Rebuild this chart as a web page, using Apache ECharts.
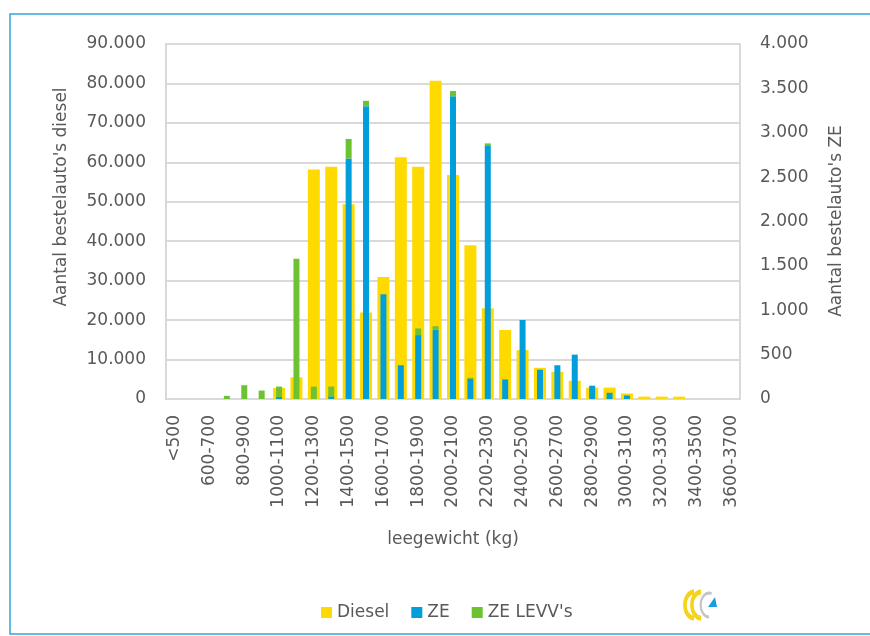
<!DOCTYPE html>
<html>
<head>
<meta charset="utf-8">
<script src="https://cdn.jsdelivr.net/npm/echarts@6/dist/echarts.min.js"></script>
<style>
  html, body { margin: 0; padding: 0; background: #fff; }
  #chart { width: 870px; height: 636px; }
</style>
</head>
<body>
<div id="chart"></div>
<script>
  // gewichtsklassen (kg)
  let categories = ['<500', '500-600', '600-700', '700-800', '800-900', '900-1000', '1000-1100', '1100-1200',
    '1200-1300', '1300-1400', '1400-1500', '1500-1600', '1600-1700', '1700-1800', '1800-1900', '1900-2000',
    '2000-2100', '2100-2200', '2200-2300', '2300-2400', '2400-2500', '2500-2600', '2600-2700', '2700-2800',
    '2800-2900', '2900-3000', '3000-3100', '3100-3200', '3200-3300', '3300-3400', '3400-3500', '3500-3600',
    '3600-3700'];
  // linker as
  let diesel = [0, 0, 0, 0, 0, 0, 2800, 5500, 58200, 58900, 49400, 21900, 30900, 61300, 58900, 80700,
    56800, 39000, 23000, 17500, 12400, 7900, 6900, 4600, 2900, 2900, 1400, 600, 600, 600, 0, 0, 0];
  // rechter as
  let ze = [0, 0, 0, 0, 0, 0, 25, 0, 0, 30, 2710, 3300, 1180, 380, 720, 780,
    3410, 230, 2860, 220, 890, 330, 380, 500, 150, 70, 40, 0, 0, 0, 0, 0, 0];
  let zeLevv = [0, 0, 0, 35, 155, 95, 115, 1580, 140, 110, 220, 60, 0, 0, 75, 40,
    60, 10, 20, 0, 0, 0, 0, 0, 0, 0, 0, 0, 0, 0, 0, 0, 0];
  let leftTicks = [0, 90000, 10000];
  let rightTicks = [0, 4000, 500];

  let font = 'DejaVu Sans';
  let grey = '#595959';

  function dots(v) {
    return String(v).replace(/\B(?=(\d{3})+(?!\d))/g, '.');
  }

  let chart = echarts.init(document.getElementById('chart'));
  chart.setOption({
    animation: false,
    textStyle: { fontFamily: font },
    color: ['#FFDA00', '#009FDB', '#6EC232'],
    grid: {
      left: 166, right: 130, top: 44, bottom: 237,
      show: true, borderColor: '#d9d9d9', borderWidth: 2
    },
    legend: {
      data: ['Diesel', 'ZE', "ZE LEVV's"],
      left: 316, top: 599,
      itemWidth: 11, itemHeight: 11, itemGap: 22,
      icon: 'rect',
      textStyle: { fontFamily: font, fontSize: 17, color: grey }
    },
    xAxis: [{
      type: 'category',
      data: categories,
      axisTick: { show: false },
      axisLine: { lineStyle: { color: '#d9d9d9', width: 2 } },
      axisLabel: { interval: 1, rotate: 90, margin: 16, fontSize: 17, color: grey, fontFamily: font }
    }, {
      type: 'category',
      data: categories,
      show: false
    }],
    yAxis: [{
      type: 'value',
      min: leftTicks[0], max: leftTicks[1], interval: leftTicks[2],
      axisLine: { show: false }, axisTick: { show: false },
      splitLine: { lineStyle: { color: '#d9d9d9', width: 2 } },
      axisLabel: { margin: 20, fontSize: 17, color: grey, fontFamily: font, formatter: dots }
    }, {
      type: 'value',
      min: rightTicks[0], max: rightTicks[1], interval: rightTicks[2],
      axisLine: { show: false }, axisTick: { show: false },
      splitLine: { show: false },
      axisLabel: { margin: 20, fontSize: 17, color: grey, fontFamily: font, formatter: dots }
    }],
    series: [{
      name: 'Diesel', type: 'bar', data: diesel,
      xAxisIndex: 0, yAxisIndex: 0, barWidth: 12, z: 2
    }, {
      name: 'ZE', type: 'bar', data: ze, stack: 'ze',
      xAxisIndex: 1, yAxisIndex: 1, barWidth: 6, z: 3
    }, {
      name: "ZE LEVV's", type: 'bar', data: zeLevv, stack: 'ze',
      xAxisIndex: 1, yAxisIndex: 1, barWidth: 6, z: 3
    }],
    graphic: [
      // kader
      { type: 'rect', shape: { x: 10, y: 14, width: 900, height: 620 },
        style: { fill: 'none', stroke: '#33a6d8', lineWidth: 1.5 }, silent: true },
      { type: 'text', x: 62, y: 197, rotation: Math.PI / 2,
        style: { text: "Aantal bestelauto's diesel", font: '17px "DejaVu Sans"', fill: grey,
          textAlign: 'center', textVerticalAlign: 'middle' } },
      { type: 'text', x: 837, y: 221, rotation: Math.PI / 2,
        style: { text: "Aantal bestelauto's ZE", font: '17px "DejaVu Sans"', fill: grey,
          textAlign: 'center', textVerticalAlign: 'middle' } },
      { type: 'text', x: 453, y: 540,
        style: { text: 'leegewicht (kg)', font: '17px "DejaVu Sans"', fill: grey,
          textAlign: 'center', textVerticalAlign: 'middle' } },
      // logo
      { type: 'arc', shape: { cx: 0, cy: 0, r: 13, startAngle: Math.PI * 0.5, endAngle: Math.PI * 1.5 },
        x: 694, y: 605, scaleX: 0.7,
        style: { stroke: '#F5D417', lineWidth: 5, fill: 'none' } },
      { type: 'arc', shape: { cx: 0, cy: 0, r: 13, startAngle: Math.PI * 0.5, endAngle: Math.PI * 1.5 },
        x: 701, y: 605, scaleX: 0.7,
        style: { stroke: '#F5D417', lineWidth: 5, fill: 'none' } },
      { type: 'arc', shape: { cx: 0, cy: 0, r: 12, startAngle: Math.PI * 0.5, endAngle: Math.PI * 1.6 },
        x: 709, y: 605, scaleX: 0.7,
        style: { stroke: '#c4c4c4', lineWidth: 3, fill: 'none' } },
      { type: 'polygon', shape: { points: [[708, 607], [717, 607], [715, 597]] },
        style: { fill: '#1a9ee0' } }
    ]
  });
</script>
</body>
</html>
